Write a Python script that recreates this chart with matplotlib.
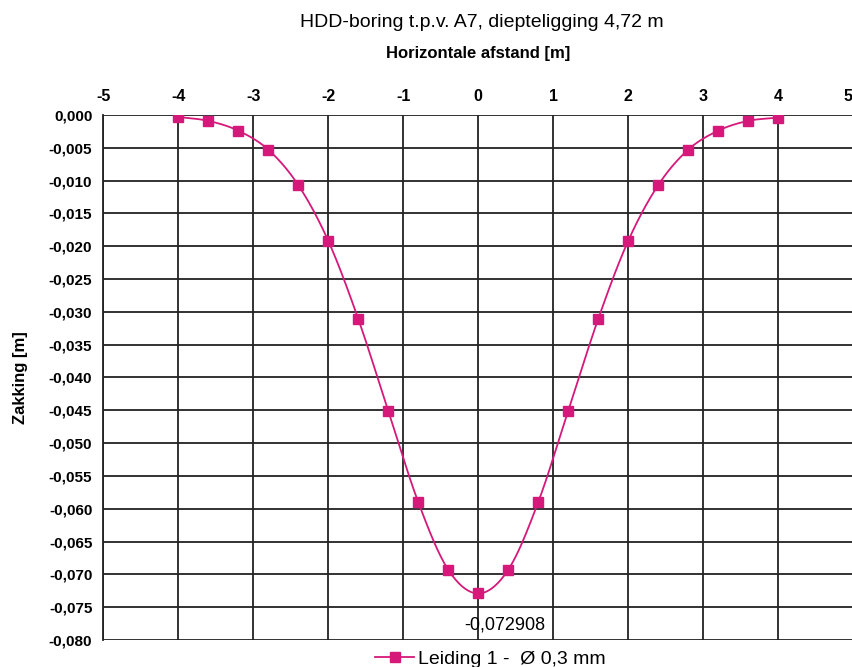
import numpy as np
import matplotlib
matplotlib.use("Agg")
import matplotlib.pyplot as plt

plt.rcParams['font.family'] = ['Liberation Sans', 'DejaVu Sans']

x_vals = [-4.0, -3.6, -3.2, -2.8, -2.4, -2.0, -1.6, -1.2, -0.8, -0.4, 0.0,
          0.4, 0.8, 1.2, 1.6, 2.0, 2.4, 2.8, 3.2, 3.6, 4.0]
zakking = [-0.0003, -0.0009, -0.0024, -0.0053, -0.0107, -0.0192, -0.0311, -0.0451,
           -0.0590, -0.0693, -0.072908,
           -0.0693, -0.0590, -0.0451, -0.0311, -0.0192, -0.0107, -0.0053, -0.0024,
           -0.0009, -0.0004]
x_ticks = [-5, -4, -3, -2, -1, 0, 1, 2, 3, 4, 5]
x_tick_labels = ["-5", "-4", "-3", "-2", "-1", "0", "1", "2", "3", "4", "5"]
y_ticks = [0.0, -0.005, -0.010, -0.015, -0.020, -0.025, -0.030, -0.035, -0.040,
           -0.045, -0.050, -0.055, -0.060, -0.065, -0.070, -0.075, -0.080]
y_tick_labels = ["0,000", "-0,005", "-0,010", "-0,015", "-0,020", "-0,025", "-0,030",
                 "-0,035", "-0,040", "-0,045", "-0,050", "-0,055", "-0,060", "-0,065",
                 "-0,070", "-0,075", "-0,080"]
series_label = "Leiding 1 -  Ø 0,3 mm"
min_label = "-0,072908"
color = '#d6187a'

def smooth(xs, ys, n=20):
    xs = np.asarray(xs); ys = np.asarray(ys)
    px = np.concatenate([[2*xs[0]-xs[1]], xs, [2*xs[-1]-xs[-2]]])
    py = np.concatenate([[2*ys[0]-ys[1]], ys, [2*ys[-1]-ys[-2]]])
    ox, oy = [], []
    t = np.linspace(0, 1, n, endpoint=False)
    for i in range(1, len(px)-2):
        for arr, out in ((px, ox), (py, oy)):
            p0, p1, p2, p3 = arr[i-1], arr[i], arr[i+1], arr[i+2]
            out.extend(0.5*((2*p1) + (-p0+p2)*t + (2*p0-5*p1+4*p2-p3)*t**2 + (-p0+3*p1-3*p2+p3)*t**3))
    ox.append(xs[-1]); oy.append(ys[-1])
    return np.array(ox), np.array(oy)

fig = plt.figure(figsize=(8.53, 6.67), dpi=100)
ax = fig.add_axes([0.1213, 0.0405, 0.8787, 0.7871])
sx, sy = smooth(x_vals, zakking)
ax.plot(sx, sy, color=color, lw=1.3, zorder=3)
ax.plot(x_vals, zakking, ls='none', marker='s', ms=6.5, color=color, zorder=4)
ax.plot([], [], color=color, lw=1.3, marker='s', ms=6.5, label=series_label)

ax.set_xlim(-5, 5)
ax.set_ylim(-0.080, 0.0)
ax.xaxis.tick_top()
ax.xaxis.set_label_position('top')
ax.set_xticks(x_ticks, x_tick_labels, fontsize=11.5, fontweight='bold')
ax.set_yticks(y_ticks, y_tick_labels, fontsize=11, fontweight='bold')
ax.tick_params(axis='both', length=0)
ax.tick_params(axis='y', pad=8)
ax.tick_params(axis='x', pad=8)
ax.get_xticklabels()[-1].set_horizontalalignment('right')
ax.grid(True, color='#222222', lw=1.3)
for s in ax.spines.values():
    s.set_visible(False)
ax.spines['left'].set_visible(True)
ax.spines['left'].set_color('#222222')
ax.spines['left'].set_linewidth(1.3)
ax.set_axisbelow(True)

ax.set_xlabel("Horizontale afstand [m]", fontsize=12, fontweight='bold', labelpad=22)
ax.set_ylabel("Zakking [m]", fontsize=12, fontweight='bold', labelpad=15)
fig.text(0.565, 0.967, "HDD-boring t.p.v. A7, diepteligging 4,72 m", ha='center', va='center', fontsize=14)

ax.annotate(min_label, xy=(x_vals[10], zakking[10]), xytext=(0.35, -0.0777),
            ha='center', va='center', fontsize=13)

fig.legend(loc='center', bbox_to_anchor=(0.575, 0.012), frameon=False, fontsize=14,
           handlelength=2.0, handletextpad=0.2)

fig.savefig("out.png", dpi=100)
